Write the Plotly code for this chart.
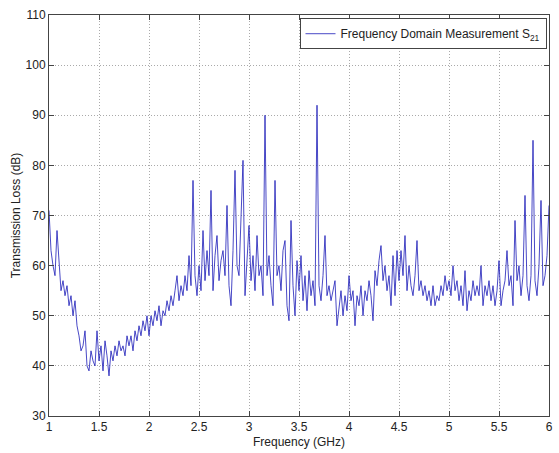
import plotly.graph_objects as go

freq_start = 1.0
freq_step = 0.02

loss_db = [
    71, 63, 60, 58, 67,
    60, 55, 57, 54, 56,
    52, 54, 50, 53, 48,
    46, 43, 44, 47, 40,
    39, 43, 41, 40, 47,
    41, 44, 39, 45, 42,
    38, 43, 41, 44, 42,
    45, 43, 44, 42, 46,
    44, 46, 43, 47, 45,
    48, 46, 49, 47, 50,
    46, 50, 48, 51, 49,
    52, 48, 51, 50, 53,
    51, 54, 52, 55, 58,
    53, 56, 54, 58, 55,
    62, 56, 77, 58, 54,
    60, 55, 67, 57, 63,
    58, 75, 55, 62, 66,
    57, 61, 63, 58, 72,
    56, 52, 63, 79, 60,
    58, 71, 81, 54, 62,
    68, 57, 62, 55, 66,
    58, 60, 54, 90, 58,
    62, 56, 52, 77, 58,
    60, 55, 63, 65, 52,
    49, 69, 56, 50, 61,
    55, 62, 53, 58, 51,
    59, 54, 57, 52, 92,
    56, 53, 58, 66, 54,
    56, 53, 55, 57, 48,
    52, 55, 50, 54, 51,
    58, 53, 55, 48, 54,
    52, 56, 50, 55, 53,
    57, 54, 49, 59, 56,
    61, 64, 57, 60, 55,
    58, 52, 62, 54, 63,
    57, 63, 58, 66, 55,
    60, 56, 54, 58, 65,
    55, 57, 54, 56, 53,
    55, 52, 56, 52, 54,
    53, 56, 54, 58, 55,
    57, 54, 60, 55, 57,
    53, 56, 52, 59, 51,
    55, 53, 57, 54, 56,
    54, 60, 52, 56, 54,
    57, 53, 56, 52, 55,
    61, 52, 55, 57, 63,
    56, 58, 52, 69, 57,
    60, 54, 58, 74, 56,
    53, 58, 85, 57, 54,
    60, 73, 56, 58, 62,
    72,
]
freq_ghz = [round(freq_start + i * freq_step, 4) for i in range(len(loss_db))]

x_ticks = [1, 1.5, 2, 2.5, 3, 3.5, 4, 4.5, 5, 5.5, 6]
x_tick_labels = ["1", "1.5", "2", "2.5", "3", "3.5", "4", "4.5", "5", "5.5", "6"]
y_ticks = [30, 40, 50, 60, 70, 80, 90, 100, 110]

fig = go.Figure()
fig.add_trace(go.Scatter(
    x=freq_ghz, y=loss_db, mode="lines",
    line=dict(color="#1a1ab8", width=0.8),
    name="Frequency Domain Measurement S<sub>21</sub>",
))

axis_common = dict(
    showline=True, linecolor="#444", linewidth=1, mirror="ticks",
    ticks="inside", ticklen=5, tickcolor="#444",
    showgrid=True, gridcolor="#aaaaaa", griddash="1px,2px", gridwidth=1,
    zeroline=False,
    tickfont=dict(family="Liberation Sans, Arial", size=12, color="#222"),
)

fig.update_layout(
    width=559, height=453,
    margin=dict(l=49, r=6, t=15, b=36),
    paper_bgcolor="white", plot_bgcolor="white",
    font=dict(family="Liberation Sans, Arial", size=12, color="#222"),
    showlegend=True,
    legend=dict(
        x=0.995, y=0.992, xanchor="right", yanchor="top",
        bordercolor="#444", borderwidth=1, bgcolor="white",
        font=dict(size=12, color="#222"),
    ),
    xaxis=dict(
        range=[1, 6], tickvals=x_ticks, ticktext=x_tick_labels,
        title=dict(text="Frequency (GHz)", standoff=4, font=dict(size=12)),
        **axis_common,
    ),
    yaxis=dict(
        range=[30, 110], tickvals=y_ticks,
        title=dict(text="Transmission Loss (dB)", standoff=2, font=dict(size=12)),
        **axis_common,
    ),
)

fig.write_html("out.html")
